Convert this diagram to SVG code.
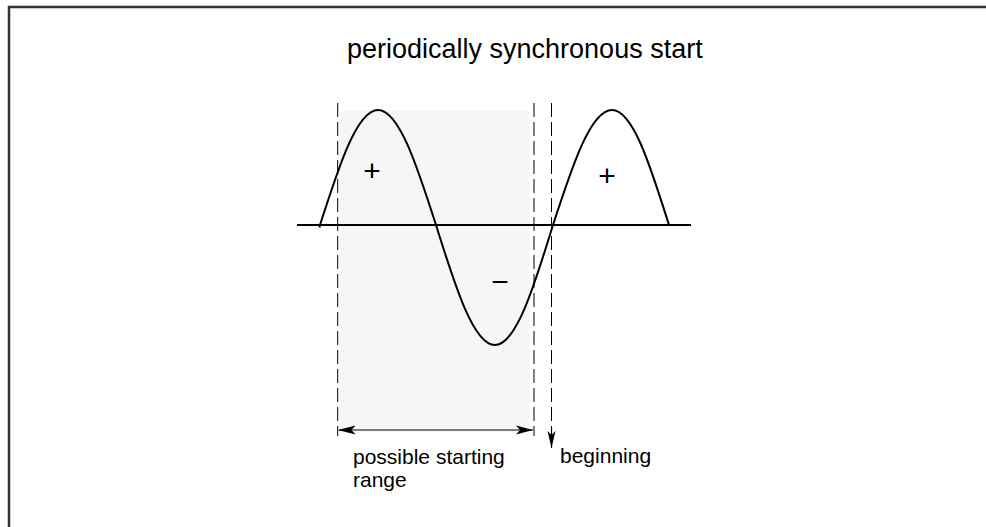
<svg xmlns="http://www.w3.org/2000/svg" width="986" height="527" viewBox="0 0 986 527">
<style>
text{font-family:"Liberation Sans",Arial,sans-serif;fill:#000}
.lbl{font-size:21px}
.sign{font-size:30px;text-anchor:middle}
.dash{stroke:#000;stroke-width:1;stroke-dasharray:14 5;fill:none}
.solid{stroke:#000;stroke-width:2;fill:none}
</style>
<defs>
<marker id="ah" markerWidth="17" markerHeight="10" refX="17" refY="5" orient="auto-start-reverse" markerUnits="userSpaceOnUse">
<path d="M0,0.5 L17,5 L0,9.5 L4,5 Z" fill="#000"/>
</marker>
<marker id="ad" markerWidth="9" markerHeight="17" refX="4.5" refY="17" orient="0" markerUnits="userSpaceOnUse">
<path d="M0.5,0 L4.5,17 L8.5,0 L4.5,4 Z" fill="#000"/>
</marker>
</defs>
<rect width="986" height="527" fill="#fff"/>
<path d="M9,527 V7 H986" fill="none" stroke="#333" stroke-width="2.5"/>
<g id="title"><text x="347" y="58" font-size="27">periodically synchronous start</text></g>
<g id="range-area"><rect x="339.5" y="111" width="190.5" height="321" fill="#f6f6f6"/></g>
<g id="axis"><line class="solid" x1="297" y1="225" x2="691" y2="225"/></g>
<g id="sine"><path class="solid" d="M319.5,227.5 L320,225 C338.9,166.1 357,110 378,110 C399,110 417.1,166.1 436,225 C455.2,286.5 473.6,345 495,345 C516,345 534.1,286.5 553,225 C572.2,166.1 590.6,110 612,110 C633,110 650.4,166.1 669,225" stroke-linejoin="round"/></g>
<g id="signs">
<text class="sign" x="372" y="181">+</text>
<text class="sign" x="607" y="186">+</text>
<text class="sign" x="500" y="292">−</text>
</g>
<g id="connectors">
<line class="dash" x1="337.7" y1="103" x2="337.7" y2="436"/>
<line class="dash" x1="534" y1="103" x2="534" y2="436"/>
<line class="dash" x1="551.5" y1="103" x2="551.5" y2="430"/>
<line x1="551.5" y1="428" x2="551.5" y2="448" stroke="#000" stroke-width="1.2" marker-end="url(#ad)"/>
<line x1="338.5" y1="430" x2="533" y2="430" stroke="#555" stroke-width="1.3" marker-start="url(#ah)" marker-end="url(#ah)"/>
</g>
<g id="labels">
<text class="lbl" x="353" y="464">possible starting</text>
<text class="lbl" x="353" y="487">range</text>
<text class="lbl" x="560" y="463">beginning</text>
</g>
</svg>
